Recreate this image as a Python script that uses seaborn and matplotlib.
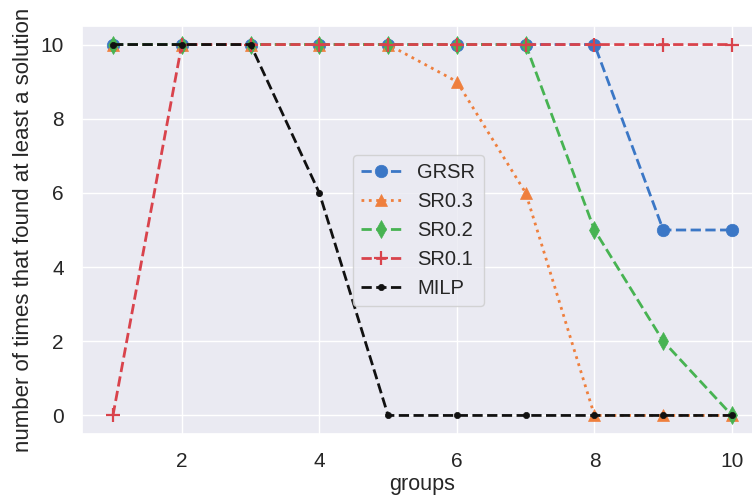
import matplotlib
matplotlib.use("Agg")
import matplotlib.pyplot as plt
import seaborn as sns

groups = [1, 2, 3, 4, 5, 6, 7, 8, 9, 10]
grsr = [10, 10, 10, 10, 10, 10, 10, 10, 5, 5]
sr03 = [10, 10, 10, 10, 10, 9, 6, 0, 0, 0]
sr02 = [10, 10, 10, 10, 10, 10, 10, 5, 2, 0]
sr01 = [0, 10, 10, 10, 10, 10, 10, 10, 10, 10]
milp = [10, 10, 10, 6, 0, 0, 0, 0, 0, 0]

sns.set_theme(style="darkgrid")
plt.rcParams["font.family"] = ["Liberation Sans", "DejaVu Sans"]

fig = plt.figure(figsize=(7.52, 5.03), dpi=100)
ax = fig.add_axes([82 / 752, 1 - 434 / 503, (763 - 82) / 752, (434 - 26) / 503])

series = [
    ("GRSR", grsr, "#3b77c6", "--", "o", 9),
    ("SR0.3", sr03, "#ef7f3d", ":", "^", 9),
    ("SR0.2", sr02, "#47b352", "--", "d", 9),
    ("SR0.1", sr01, "#d9434c", "--", "+", 10),
    ("MILP", milp, "#111111", "--", ".", 9),
]
for name, vals, color, ls, marker, ms in series:
    sns.lineplot(x=groups, y=vals, ax=ax, color=color, label=name,
                 marker=marker, markersize=ms, linewidth=2,
                 markeredgecolor=color,
                 markeredgewidth=1.6 if marker == "+" else 0.5)
    ax.lines[-1].set_linestyle(ls)

ax.set_xlim(0.55, 10.45)
ax.set_ylim(-0.5, 10.5)
ax.set_xticks([2, 4, 6, 8, 10])
ax.set_yticks([0, 2, 4, 6, 8, 10])
ax.tick_params(axis="x", labelsize=15, pad=plt.rcParams["xtick.major.pad"] + 3.5)
ax.tick_params(axis="y", labelsize=15, pad=plt.rcParams["ytick.major.pad"] + 3.5)
ax.set_xlabel("groups", fontsize=15.5, labelpad=2)
ax.set_ylabel("number of times that found at least a solution", fontsize=16,
              labelpad=5)

ax.legend(loc="upper left", bbox_to_anchor=(0.398, 0.684), borderaxespad=0,
          fontsize=14.5, handlelength=2.0, frameon=True)

fig.savefig("out.png", dpi=100)
